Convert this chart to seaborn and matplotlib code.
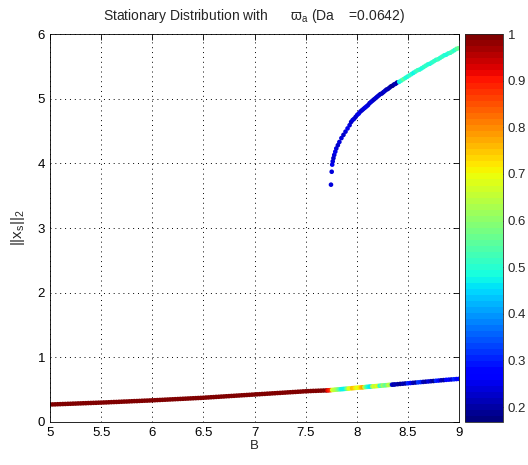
import numpy as np
import pandas as pd
import matplotlib
matplotlib.use("Agg")
import matplotlib.pyplot as plt
import matplotlib.colors as mcolors
import matplotlib.cm as cm
import seaborn as sns

# lower branch, red part (B, ||x_s||_2), colour value 1.0
low_red_B = [5.000, 5.025, 5.050, 5.075, 5.100, 5.125, 5.150, 5.175, 5.200, 5.225,
             5.250, 5.275, 5.300, 5.325, 5.350, 5.375, 5.400, 5.425, 5.450, 5.475,
             5.500, 5.525, 5.550, 5.575, 5.600, 5.625, 5.650, 5.675, 5.700, 5.725,
             5.750, 5.775, 5.800, 5.825, 5.850, 5.875, 5.900, 5.925, 5.950, 5.975,
             6.000, 6.025, 6.050, 6.075, 6.100, 6.125, 6.150, 6.175, 6.200, 6.225,
             6.250, 6.275, 6.300, 6.325, 6.350, 6.375, 6.400, 6.425, 6.450, 6.475,
             6.500, 6.525, 6.550, 6.575, 6.600, 6.625, 6.650, 6.675, 6.700, 6.725,
             6.750, 6.775, 6.800, 6.825, 6.850, 6.875, 6.900, 6.925, 6.950, 6.975,
             7.000, 7.025, 7.050, 7.075, 7.100, 7.125, 7.150, 7.175, 7.200, 7.225,
             7.250, 7.275, 7.300, 7.325, 7.350, 7.375, 7.400, 7.425, 7.450, 7.475,
             7.500, 7.525, 7.550, 7.575, 7.600, 7.625, 7.650, 7.675, 7.700]
low_red_y = [0.270, 0.272, 0.273, 0.275, 0.276, 0.278, 0.279, 0.281, 0.282, 0.284,
             0.285, 0.287, 0.288, 0.290, 0.291, 0.293, 0.294, 0.296, 0.297, 0.299,
             0.300, 0.302, 0.303, 0.305, 0.307, 0.309, 0.310, 0.312, 0.314, 0.316,
             0.317, 0.319, 0.321, 0.323, 0.324, 0.326, 0.328, 0.330, 0.331, 0.333,
             0.335, 0.337, 0.339, 0.341, 0.343, 0.345, 0.347, 0.349, 0.351, 0.353,
             0.355, 0.357, 0.359, 0.361, 0.363, 0.365, 0.367, 0.369, 0.371, 0.373,
             0.375, 0.378, 0.380, 0.383, 0.385, 0.388, 0.390, 0.393, 0.395, 0.398,
             0.400, 0.403, 0.405, 0.408, 0.410, 0.413, 0.415, 0.418, 0.420, 0.423,
             0.425, 0.428, 0.430, 0.433, 0.435, 0.438, 0.440, 0.443, 0.445, 0.448,
             0.450, 0.453, 0.455, 0.458, 0.460, 0.463, 0.465, 0.468, 0.470, 0.473,
             0.475, 0.477, 0.479, 0.481, 0.482, 0.484, 0.485, 0.487, 0.488]
low_red_c = [1.0] * len(low_red_B)

# lower branch, mixed colour part
low_mix_B = [7.715, 7.730, 7.745, 7.760, 7.775, 7.790, 7.805, 7.820, 7.835, 7.850,
             7.865, 7.880, 7.895, 7.910, 7.925, 7.940, 7.955, 7.970, 7.985, 8.000,
             8.015, 8.030, 8.045, 8.060, 8.075, 8.090, 8.105, 8.120, 8.135, 8.150,
             8.165, 8.180, 8.195, 8.210, 8.225, 8.240, 8.255, 8.270, 8.285, 8.300,
             8.315, 8.330, 8.345, 8.360, 8.375]
low_mix_y = [0.489, 0.491, 0.493, 0.495, 0.497, 0.500, 0.502, 0.504, 0.506, 0.508,
             0.510, 0.512, 0.514, 0.516, 0.518, 0.521, 0.523, 0.525, 0.527, 0.529,
             0.531, 0.533, 0.535, 0.537, 0.539, 0.542, 0.544, 0.546, 0.548, 0.550,
             0.552, 0.554, 0.556, 0.558, 0.560, 0.563, 0.565, 0.567, 0.569, 0.571,
             0.573, 0.575, 0.577, 0.579, 0.581]
low_mix_c = [0.92, 0.90, 0.86, 0.68, 0.66, 0.64, 0.62, 0.58, 0.52, 0.48,
             0.47, 0.48, 0.52, 0.62, 0.70, 0.68, 0.76, 0.74, 0.72, 0.68,
             0.70, 0.72, 0.76, 0.78, 0.66, 0.56, 0.50, 0.48, 0.46, 0.60,
             0.68, 0.64, 0.70, 0.66, 0.50, 0.55, 0.62, 0.58, 0.55, 0.60,
             0.66, 0.62, 0.24, 0.20, 0.21]

# lower branch, blue part
low_blue_B = [8.400, 8.425, 8.450, 8.475, 8.500, 8.525, 8.550, 8.575, 8.600, 8.625,
              8.650, 8.675, 8.700, 8.725, 8.750, 8.775, 8.800, 8.825, 8.850, 8.875,
              8.900, 8.925, 8.950, 8.975, 9.000]
low_blue_y = [0.585, 0.589, 0.592, 0.596, 0.599, 0.603, 0.606, 0.610, 0.613, 0.617,
              0.620, 0.624, 0.627, 0.631, 0.634, 0.638, 0.641, 0.645, 0.648, 0.652,
              0.655, 0.658, 0.661, 0.664, 0.667]
low_blue_c = [0.20, 0.19, 0.21, 0.20, 0.30, 0.28, 0.22, 0.20, 0.32, 0.30,
              0.22, 0.20, 0.24, 0.21, 0.19, 0.30, 0.28, 0.22, 0.20, 0.26,
              0.28, 0.24, 0.30, 0.28, 0.27]

# upper branch
up_B = [7.748, 7.755, 7.760, 7.765, 7.772, 7.780, 7.790, 7.800, 7.815, 7.830,
        7.850, 7.870, 7.890, 7.910, 7.930,
        7.945, 7.960, 7.975, 7.990, 8.005, 8.020, 8.035, 8.050, 8.065, 8.080,
        8.095, 8.110, 8.125, 8.140, 8.155, 8.170, 8.185, 8.200, 8.215, 8.230,
        8.245, 8.260, 8.275, 8.290, 8.305, 8.320, 8.335, 8.350, 8.365, 8.380,
        8.395,
        8.415, 8.435, 8.455, 8.475, 8.495, 8.515, 8.535, 8.555, 8.575, 8.595,
        8.615, 8.635, 8.655, 8.675, 8.695, 8.715, 8.735, 8.755, 8.775, 8.795,
        8.815, 8.835, 8.855, 8.875, 8.895, 8.915, 8.935, 8.955, 8.975, 8.995]
up_y = [3.67, 3.87, 3.98, 4.03, 4.08, 4.13, 4.18, 4.23, 4.28, 4.33,
        4.39, 4.44, 4.49, 4.54, 4.59,
        4.64, 4.67, 4.69, 4.72, 4.75, 4.77, 4.80, 4.82, 4.84, 4.86,
        4.88, 4.90, 4.93, 4.95, 4.97, 4.99, 5.01, 5.03, 5.05, 5.07,
        5.08, 5.10, 5.12, 5.14, 5.15, 5.17, 5.19, 5.20, 5.22, 5.23,
        5.25,
        5.26, 5.28, 5.30, 5.32, 5.34, 5.36, 5.38, 5.40, 5.42, 5.44,
        5.45, 5.47, 5.49, 5.51, 5.53, 5.54, 5.56, 5.58, 5.60, 5.61,
        5.63, 5.65, 5.67, 5.68, 5.70, 5.71, 5.73, 5.75, 5.77, 5.78]
up_c = [0.24, 0.24, 0.25, 0.24, 0.23, 0.24, 0.25, 0.24, 0.23, 0.24,
        0.24, 0.23, 0.24, 0.25, 0.24,
        0.23, 0.24, 0.24, 0.23, 0.24, 0.25, 0.24, 0.23, 0.24, 0.24,
        0.25, 0.24, 0.23, 0.24, 0.24, 0.22, 0.24, 0.23, 0.24, 0.22,
        0.23, 0.22, 0.24, 0.22, 0.21, 0.22, 0.20, 0.19, 0.20, 0.21,
        0.20,
        0.48, 0.50, 0.55, 0.50, 0.49, 0.51, 0.50, 0.48, 0.50, 0.52,
        0.50, 0.49, 0.50, 0.51, 0.50, 0.49, 0.50, 0.51, 0.50, 0.52,
        0.50, 0.51, 0.50, 0.49, 0.50, 0.51, 0.52, 0.50, 0.54, 0.56]

x_ticks = [5, 5.5, 6, 6.5, 7, 7.5, 8, 8.5, 9]
y_ticks = [0, 1, 2, 3, 4, 5, 6]
cbar_ticks = [0.2, 0.3, 0.4, 0.5, 0.6, 0.7, 0.8, 0.9, 1.0]
c_min, c_max = 0.168, 1.0

df = pd.DataFrame({
    "B": low_red_B + low_mix_B + low_blue_B + up_B,
    "norm": low_red_y + low_mix_y + low_blue_y + up_y,
    "c": low_red_c + low_mix_c + low_blue_c + up_c,
})

sns.set_theme(style="white")
plt.rcParams["font.family"] = ["Liberation Sans", "DejaVu Sans"]
plt.rcParams["mathtext.fontset"] = "custom"
plt.rcParams["mathtext.rm"] = "Liberation Sans"
plt.rcParams["mathtext.it"] = "Liberation Sans"

cmap = plt.get_cmap("jet", 64)
norm = mcolors.Normalize(vmin=c_min, vmax=c_max)

fig = plt.figure(figsize=(5.28, 4.65), dpi=100)
ax = fig.add_axes([50 / 528, 1 - 422 / 465, 409 / 528, 388 / 465])
cax = fig.add_axes([465 / 528, 1 - 422 / 465, 38 / 528, 388 / 465])

sns.scatterplot(data=df, x="B", y="norm", hue="c", palette=cmap, hue_norm=norm,
                s=11, linewidth=0, legend=False, ax=ax)

ax.set_xlim(5, 9)
ax.set_ylim(0, 6)
ax.set_xticks(x_ticks)
ax.set_xticklabels([f"{t:g}" for t in x_ticks])
ax.set_yticks(y_ticks)
ax.grid(True, linestyle=(0, (1, 4)), color="black", linewidth=0.7)
ax.tick_params(direction="in", length=4, top=True, right=True, labelsize=9.5,
               colors="black", width=0.6)
for sp in ax.spines.values():
    sp.set_color("black")
    sp.set_linewidth(0.6)
ax.set_xlabel("B", fontsize=9.5, labelpad=1)
ax.set_ylabel(r"||x$_s$||$_2$", fontsize=11, labelpad=8)
ax.set_title("Stationary Distribution with      \u03d6$_a$ (Da    =0.0642)",
             fontsize=10, pad=10)

sm = cm.ScalarMappable(norm=norm, cmap=cmap)
cb = fig.colorbar(sm, cax=cax, ticks=cbar_ticks)
cb.ax.set_yticklabels([f"{t:g}" for t in cbar_ticks])
cb.ax.tick_params(direction="in", length=4, left=True, right=True, labelsize=9.5,
                  width=0.6)
cb.outline.set_linewidth(0.6)

fig.savefig("out.png", dpi=100)
